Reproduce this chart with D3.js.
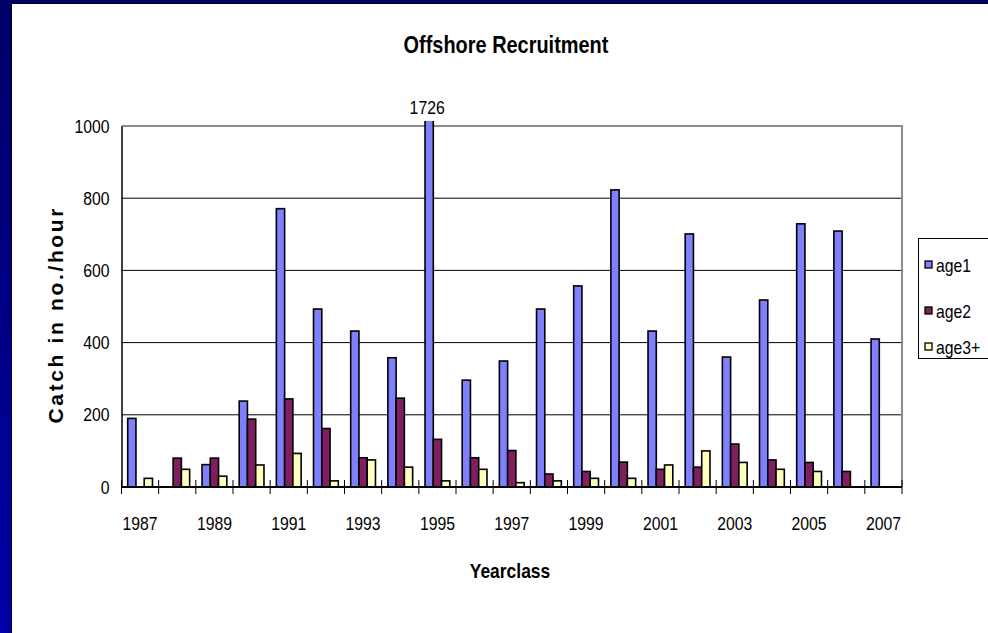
<!DOCTYPE html>
<html>
<head>
<meta charset="utf-8">
<script src="https://cdn.jsdelivr.net/npm/d3@7"></script>
<style>
  body { margin: 0; background: #000080; }
  text { font-family: "Liberation Sans", Arial, sans-serif; fill: #000; }
</style>
</head>
<body>
<script>
// values, null = no bar
var years = d3.range(1987, 2008).map(String)
var age1 = [190, null, 62, 238, 771, 493, 432, 358, 1726, 296, 349, 493, 557, 823, 432, 701, 360, 518, 729, 709, 410]
var age2 = [null, 80, 80, 188, 244, 162, 81, 246, 132, 81, 101, 36, 43, 69, 49, 55, 119, 75, 68, 43, null]
var age3 = [24, 49, 30, 61, 93, 17, 75, 55, 17, 49, 12, 17, 24, 24, 61, 100, 68, 49, 43, null, null]
var seriesNames = ["age1", "age2", "age3+"]
var seriesColors = ["#8080ff", "#801f60", "#ffffc0"]
var yTicks = [0, 200, 400, 600, 800, 1000]
var xTickLabels = years.filter(function (d, i) { return i % 2 == 0 })

var width = 988
var height = 633
var plotLeft = 121.5, plotRight = 902, plotTop = 126, plotBottom = 487

// the chart text is squeezed sideways, like a narrow font
function narrow(sel, k) {
   sel.each(function () {
      var w = this.getComputedTextLength()
      d3.select(this)
         .attr("textLength", w * (k || 0.83))
         .attr("lengthAdjust", "spacingAndGlyphs")
   })
}

var svg = d3.select("body")
   .append("svg")
   .attr("width", width)
   .attr("height", height)
   .style("display", "block")

var defs = svg.append("defs")
var grad = defs.append("linearGradient")
   .attr("id", "bg")
   .attr("x1", 0).attr("y1", 0).attr("x2", 0).attr("y2", 1)
grad.append("stop").attr("offset", "0%").attr("stop-color", "#000068")
grad.append("stop").attr("offset", "100%").attr("stop-color", "#0000a6")
defs.append("clipPath").attr("id", "plotclip")
   .append("rect")
   .attr("x", plotLeft).attr("y", plotTop - 5)
   .attr("width", plotRight - plotLeft).attr("height", plotBottom - plotTop + 5)

// slide background and white panel
svg.append("rect").attr("width", width).attr("height", height).style("fill", "url(#bg)")
svg.append("rect")
   .attr("x", 11).attr("y", 3)
   .attr("width", width - 11).attr("height", height - 3)
   .style("fill", "#000020")
svg.append("rect")
   .attr("x", 12).attr("y", 4)
   .attr("width", width - 12).attr("height", height - 4)
   .style("fill", "white")

var x = d3.scaleBand().domain(years).range([plotLeft, plotRight])
var xs = d3.scaleBand().domain(seriesNames).range([0, x.bandwidth()]).paddingOuter(0.75)
var y = d3.scaleLinear().domain([0, 1000]).range([plotBottom, plotTop])

// gridlines
svg.append("g")
   .selectAll("line")
   .data(yTicks.slice(1, -1))
   .enter()
   .append("line")
   .attr("x1", plotLeft).attr("x2", plotRight)
   .attr("y1", function (d) { return y(d) }).attr("y2", function (d) { return y(d) })
   .style("stroke", "#000")
   .style("stroke-width", 1)

// plot area border (top + right)
svg.append("path")
   .attr("d", "M" + plotLeft + "," + y(1000) + "H" + plotRight + "V" + plotBottom)
   .style("fill", "none")
   .style("stroke", "#8c8c8c")
   .style("stroke-width", 2)

// bars
var table = [age1, age2, age3]
var bars = svg.append("g").attr("clip-path", "url(#plotclip)")
table.forEach(function (vals, s) {
   bars.selectAll(null)
      .data(vals.map(function (v, i) { return { year: years[i], v: v } }).filter(function (d) { return d.v != null }))
      .enter()
      .append("rect")
      .attr("x", function (d) { return x(d.year) + xs(seriesNames[s]) })
      .attr("y", function (d) { return y(d.v) })
      .attr("width", xs.bandwidth())
      .attr("height", function (d) { return plotBottom - y(d.v) })
      .style("fill", seriesColors[s])
      .style("stroke", "#000")
      .style("stroke-width", 1.6)
})

// label for the clipped bar
var big = age1.indexOf(d3.max(age1))
svg.append("text")
   .attr("x", x(years[big]) + xs("age1") + xs.bandwidth() / 2 - 2)
   .attr("y", 114)
   .attr("text-anchor", "middle")
   .style("font-size", "19px")
   .text(age1[big])
   .call(narrow)

// axes
var yAxis = svg.append("g")
   .attr("transform", "translate(" + plotLeft + ",0)")
   .call(d3.axisLeft(y).tickValues(yTicks).tickFormat(d3.format("d")).tickSize(0).tickPadding(12))
yAxis.attr("font-family", null).attr("font-size", null)
yAxis.select(".domain").style("stroke", "#000").style("stroke-width", 1.5)
yAxis.selectAll("text").style("font-size", "19px").call(narrow)

var xAxis = svg.append("g")
   .attr("transform", "translate(0," + plotBottom + ")")
   .call(d3.axisBottom(x).tickValues(xTickLabels).tickSize(0).tickPadding(30))
xAxis.attr("font-family", null).attr("font-size", null)
xAxis.select(".domain").remove()
xAxis.selectAll("text").style("font-size", "19px").call(narrow)
svg.append("line")
   .attr("x1", plotLeft).attr("x2", plotRight)
   .attr("y1", plotBottom).attr("y2", plotBottom)
   .style("stroke", "#000").style("stroke-width", 2)
// cross tick marks on category boundaries
svg.append("g")
   .selectAll("line")
   .data(years.concat(["end"]))
   .enter()
   .append("line")
   .attr("x1", function (d, i) { return plotLeft + i * x.step() })
   .attr("x2", function (d, i) { return plotLeft + i * x.step() })
   .attr("y1", plotBottom - 7).attr("y2", plotBottom + 7)
   .style("stroke", "#000").style("stroke-width", 1)

// titles
svg.append("text")
   .attr("x", 506).attr("y", 53)
   .attr("text-anchor", "middle")
   .style("font-size", "24px").style("font-weight", "bold")
   .text("Offshore Recruitment")
   .call(narrow)
svg.append("text")
   .attr("x", 510).attr("y", 578)
   .attr("text-anchor", "middle")
   .style("font-size", "21px").style("font-weight", "bold")
   .text("Yearclass")
   .call(narrow)
svg.append("text")
   .attr("transform", "translate(63,316) rotate(-90)")
   .attr("text-anchor", "middle")
   .attr("textLength", 215)
   .attr("lengthAdjust", "spacing")
   .style("font-size", "21px").style("font-weight", "bold")
   .text("Catch in no./hour")

// legend
var legend = svg.append("g")
legend.append("rect")
   .attr("x", 918.5).attr("y", 238.5)
   .attr("width", 80).attr("height", 120)
   .style("fill", "white").style("stroke", "#000").style("stroke-width", 1)
var legendY = [265, 311, 347]
seriesNames.forEach(function (name, i) {
   legend.append("rect")
      .attr("x", 925).attr("y", legendY[i] - 4)
      .attr("width", 7).attr("height", 7)
      .style("fill", seriesColors[i]).style("stroke", "#000").style("stroke-width", 1.3)
   legend.append("text")
      .attr("x", 936).attr("y", legendY[i] + 7)
      .style("font-size", "19px")
      .text(name)
      .call(narrow)
})
</script>
</body>
</html>
